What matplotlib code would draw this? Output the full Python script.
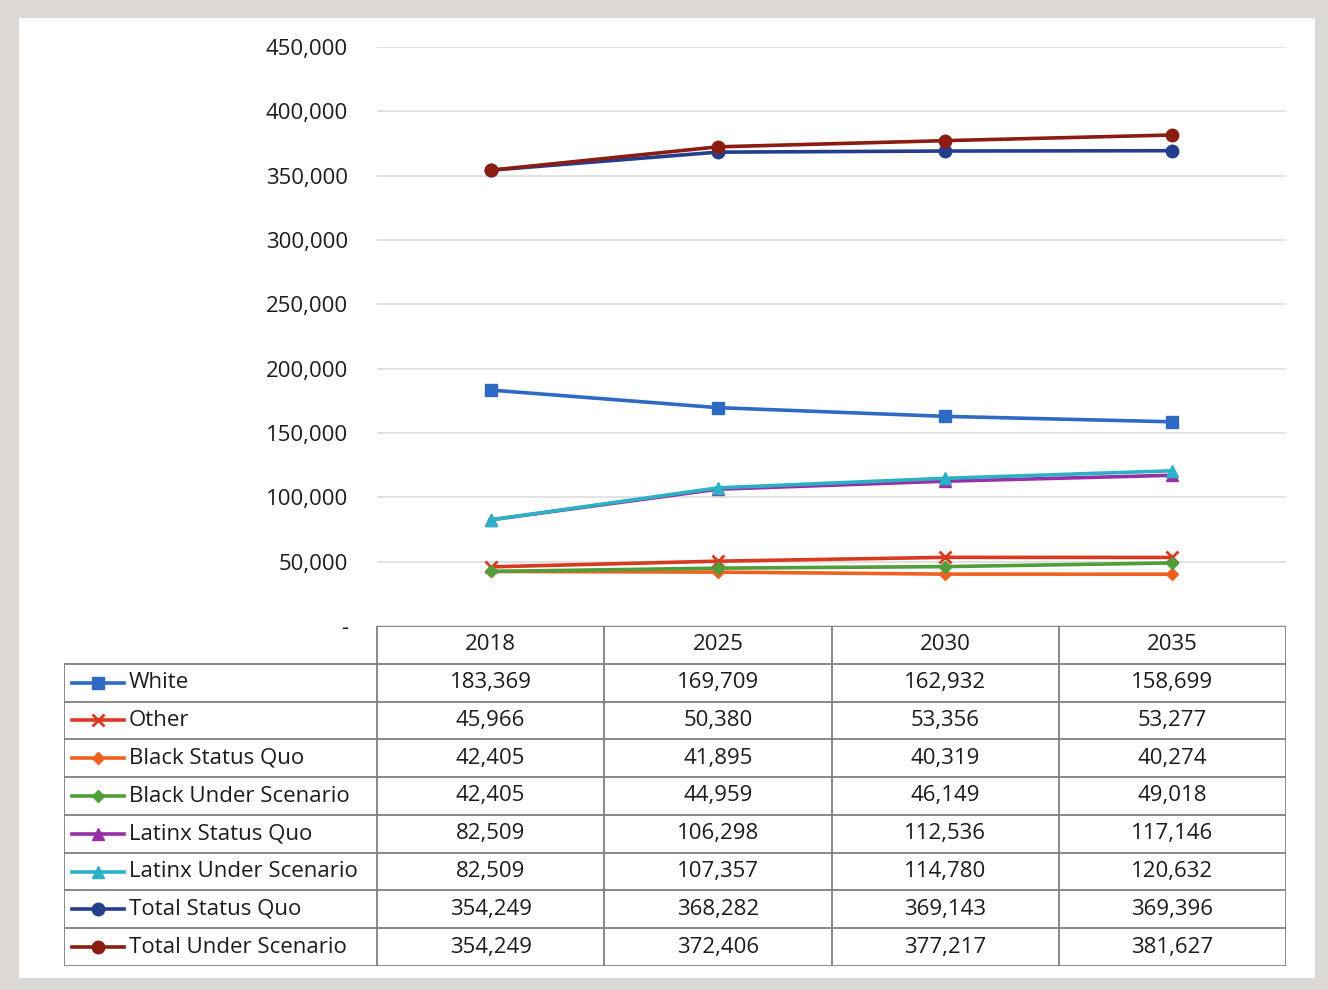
import matplotlib.pyplot as plt
from matplotlib.patches import Rectangle
from matplotlib.ticker import FuncFormatter

plt.rcParams['font.family'] = ['Open Sans', 'DejaVu Sans']

# datos
years = ['2018', '2025', '2030', '2035']
series_names = ['White', 'Other', 'Black Status Quo', 'Black Under Scenario',
                'Latinx Status Quo', 'Latinx Under Scenario',
                'Total Status Quo', 'Total Under Scenario']
white = [183369, 169709, 162932, 158699]
other = [45966, 50380, 53356, 53277]
black_sq = [42405, 41895, 40319, 40274]
black_us = [42405, 44959, 46149, 49018]
latinx_sq = [82509, 106298, 112536, 117146]
latinx_us = [82509, 107357, 114780, 120632]
total_sq = [354249, 368282, 369143, 369396]
total_us = [354249, 372406, 377217, 381627]
values = [white, other, black_sq, black_us, latinx_sq, latinx_us, total_sq, total_us]

colors = ['#2E69C3', '#D8391F', '#F0611F', '#4F9E3A',
          '#992FA6', '#2BB1C6', '#243E8C', '#8A1C12']
markers = ['s', 'x', 'D', 'D', '^', '^', 'o', 'o']
msizes = [9, 9, 6.5, 6.5, 9, 9, 9, 9]

W, H = 1328, 990
fs = 16
tc = '#1C1C1C'
fig = plt.figure(figsize=(W / 100, H / 100), dpi=100, facecolor='#DCD9D6')
fig.patches.append(Rectangle((19 / W, 1 - 978 / H), (1315 - 19) / W, (978 - 18) / H,
                             transform=fig.transFigure, facecolor='white',
                             edgecolor='none', zorder=-10))

# grafico
ax = fig.add_axes([377 / W, 1 - 626 / H, (1286 - 377) / W, (626 - 47) / H])
ax.set_facecolor('none')
x = list(range(len(years)))
for vals, c, m, ms in zip(values, colors, markers, msizes):
    ax.plot(x, vals, color=c, lw=2.6, marker=m, ms=ms, mew=2 if m == 'x' else 1,
            mec=c, mfc=c, zorder=3)
ax.set_xlim(-0.5, 3.5)
ax.set_ylim(0, 450000)
ax.set_yticks(range(0, 450001, 50000))
ax.yaxis.set_major_formatter(FuncFormatter(lambda v, p: '-' if v == 0 else f'{int(v):,}'))
ax.grid(axis='y', color='#DDDDDD', lw=1.2)
ax.set_axisbelow(True)
ax.set_xticks([])
ax.tick_params(axis='y', length=0, pad=21, labelsize=fs, labelcolor=tc)
for s in ax.spines.values():
    s.set_visible(False)

# tabla de datos
col_w = (1286 - 377) / 4
xmin = -0.5 - (377 - 64) / col_w
tx = fig.add_axes([64 / W, 1 - 966 / H, (1286 - 64) / W, (966 - 626) / H])
tx.set_xlim(xmin, 3.5)
tx.set_ylim(len(series_names) + 1, 0)
tx.axis('off')
gc = '#7F7F7F'
nrows = len(series_names) + 1
tx.hlines(0, -0.5, 3.5, color=gc, lw=1.3)
for r in range(1, nrows + 1):
    tx.hlines(r, xmin, 3.5, color=gc, lw=1.3)
for c in [-0.5, 0.5, 1.5, 2.5, 3.5]:
    tx.vlines(c, 0, nrows, color=gc, lw=1.3)
tx.vlines(xmin, 1, nrows, color=gc, lw=1.3)

for i, yr in enumerate(years):
    tx.text(i, 0.5, yr, ha='center', va='center', fontsize=fs, color=tc)

def px(p):
    return (p - 377) / col_w - 0.5

for r, (name, vals, c, m, ms) in enumerate(zip(series_names, values, colors, markers, msizes), start=1):
    yc = r + 0.5
    tx.plot([px(72), px(124)], [yc, yc], color=c, lw=2.6)
    tx.plot([px(98)], [yc], marker=m, color=c, ms=ms, mew=2 if m == 'x' else 1, mec=c, mfc=c)
    tx.text(px(129), yc, name, ha='left', va='center', fontsize=fs, color=tc)
    for i, v in enumerate(vals):
        tx.text(i, yc, f'{v:,}', ha='center', va='center', fontsize=fs, color=tc)

plt.savefig('out.png', dpi=100, facecolor=fig.get_facecolor())
